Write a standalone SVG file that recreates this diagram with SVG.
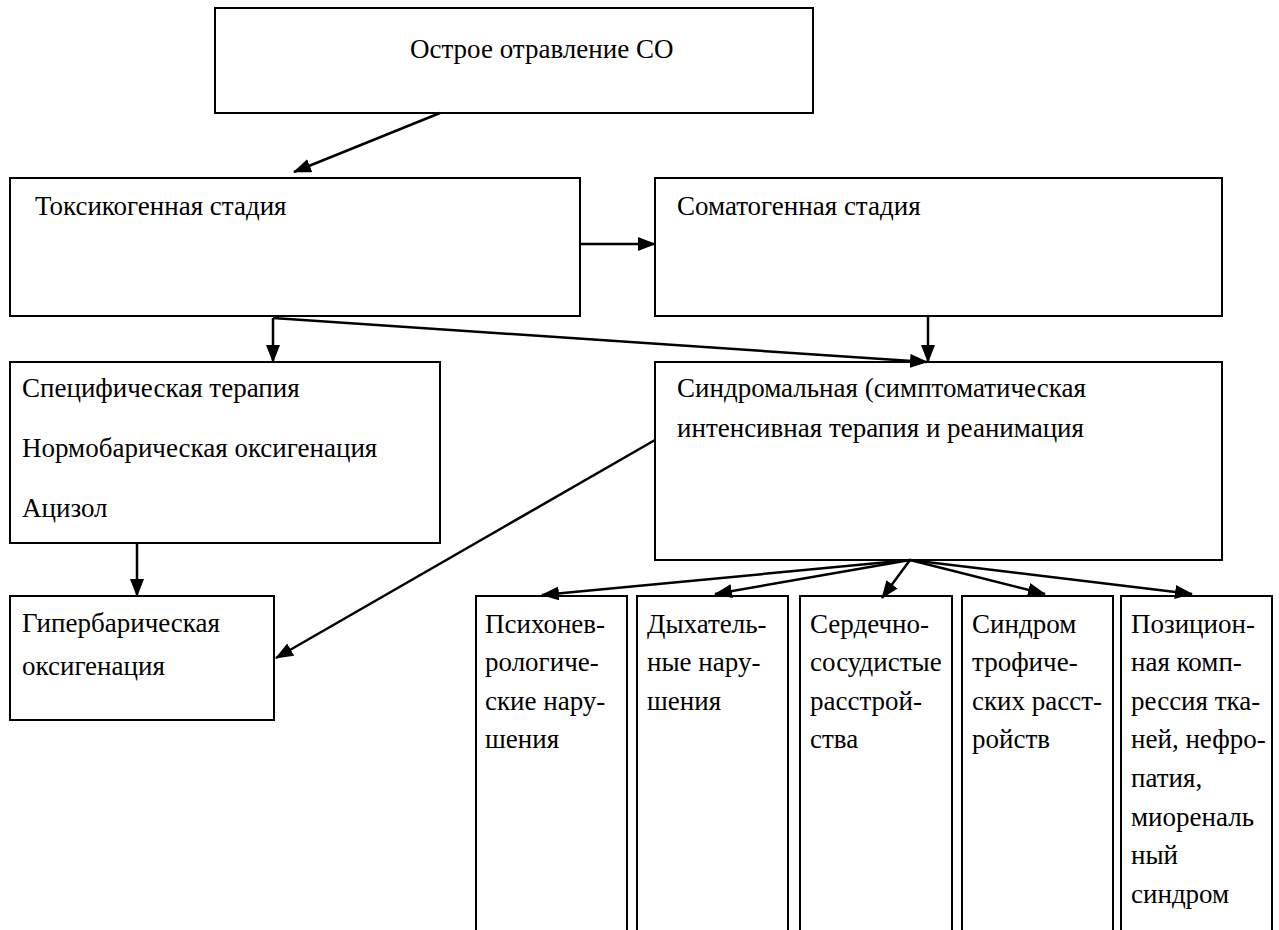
<svg xmlns="http://www.w3.org/2000/svg" width="1279" height="930" viewBox="0 0 1279 930" xml:lang="ru" lang="ru">
<style>
.box{fill:#fff;stroke:#000;stroke-width:2}
.c{stroke:#000;stroke-width:2.5;fill:none}
</style>
<defs>
<marker id="ah" markerUnits="userSpaceOnUse" markerWidth="18" markerHeight="14" refX="17" refY="7" orient="auto">
<path d="M0,0 L18,7 L0,14 Z" fill="#000"/>
</marker>
</defs>
<rect width="1279" height="930" fill="#fff"/>
<g id="n-root"><rect class="box" x="215" y="8" width="598" height="105"/><text font-family="Liberation Serif, Tinos, Times New Roman, serif" style="font-family:'Liberation Serif','Tinos','Times New Roman',serif;font-size:27px" x="410" y="58">Острое отравление СО</text></g>
<g id="n-toxic"><rect class="box" x="10" y="178" width="570" height="138"/><text font-family="Liberation Serif, Tinos, Times New Roman, serif" style="font-family:'Liberation Serif','Tinos','Times New Roman',serif;font-size:27px" x="35" y="215">Токсикогенная стадия</text></g>
<g id="n-somat"><rect class="box" x="655" y="178" width="567" height="138"/><text font-family="Liberation Serif, Tinos, Times New Roman, serif" style="font-family:'Liberation Serif','Tinos','Times New Roman',serif;font-size:27px" x="677" y="215">Соматогенная стадия</text></g>
<g id="n-spec"><rect class="box" x="10" y="362" width="430" height="181"/><text font-family="Liberation Serif, Tinos, Times New Roman, serif" style="font-family:'Liberation Serif','Tinos','Times New Roman',serif;font-size:27px" x="22" y="397">Специфическая терапия</text><text font-family="Liberation Serif, Tinos, Times New Roman, serif" style="font-family:'Liberation Serif','Tinos','Times New Roman',serif;font-size:27px" x="22" y="457">Нормобарическая оксигенация</text><text font-family="Liberation Serif, Tinos, Times New Roman, serif" style="font-family:'Liberation Serif','Tinos','Times New Roman',serif;font-size:27px" x="22" y="517">Ацизол</text></g>
<g id="n-hyper"><rect class="box" x="10" y="596" width="264" height="124"/><text font-family="Liberation Serif, Tinos, Times New Roman, serif" style="font-family:'Liberation Serif','Tinos','Times New Roman',serif;font-size:27px" x="22" y="632">Гипербарическая</text><text font-family="Liberation Serif, Tinos, Times New Roman, serif" style="font-family:'Liberation Serif','Tinos','Times New Roman',serif;font-size:27px" x="22" y="675">оксигенация</text></g>
<g id="n-synd"><rect class="box" x="655" y="362" width="567" height="198"/><text font-family="Liberation Serif, Tinos, Times New Roman, serif" style="font-family:'Liberation Serif','Tinos','Times New Roman',serif;font-size:27px" x="677" y="397">Синдромальная (симптоматическая</text><text font-family="Liberation Serif, Tinos, Times New Roman, serif" style="font-family:'Liberation Serif','Tinos','Times New Roman',serif;font-size:27px" x="677" y="437">интенсивная терапия и реанимация</text></g>
<g id="n-b1"><rect class="box" x="476" y="596" width="151" height="345"/><text font-family="Liberation Serif, Tinos, Times New Roman, serif" style="font-family:'Liberation Serif','Tinos','Times New Roman',serif;font-size:27px" x="485" y="633">Психонев-</text><text font-family="Liberation Serif, Tinos, Times New Roman, serif" style="font-family:'Liberation Serif','Tinos','Times New Roman',serif;font-size:27px" x="485" y="671">рологиче-</text><text font-family="Liberation Serif, Tinos, Times New Roman, serif" style="font-family:'Liberation Serif','Tinos','Times New Roman',serif;font-size:27px" x="485" y="710">ские нару-</text><text font-family="Liberation Serif, Tinos, Times New Roman, serif" style="font-family:'Liberation Serif','Tinos','Times New Roman',serif;font-size:27px" x="485" y="748">шения</text></g>
<g id="n-b2"><rect class="box" x="637" y="596" width="151" height="345"/><text font-family="Liberation Serif, Tinos, Times New Roman, serif" style="font-family:'Liberation Serif','Tinos','Times New Roman',serif;font-size:27px" x="647" y="633">Дыхатель-</text><text font-family="Liberation Serif, Tinos, Times New Roman, serif" style="font-family:'Liberation Serif','Tinos','Times New Roman',serif;font-size:27px" x="647" y="671">ные нару-</text><text font-family="Liberation Serif, Tinos, Times New Roman, serif" style="font-family:'Liberation Serif','Tinos','Times New Roman',serif;font-size:27px" x="647" y="710">шения</text></g>
<g id="n-b3"><rect class="box" x="800" y="596" width="152" height="345"/><text font-family="Liberation Serif, Tinos, Times New Roman, serif" style="font-family:'Liberation Serif','Tinos','Times New Roman',serif;font-size:27px" x="810" y="633">Сердечно-</text><text font-family="Liberation Serif, Tinos, Times New Roman, serif" style="font-family:'Liberation Serif','Tinos','Times New Roman',serif;font-size:27px" x="810" y="671">сосудистые</text><text font-family="Liberation Serif, Tinos, Times New Roman, serif" style="font-family:'Liberation Serif','Tinos','Times New Roman',serif;font-size:27px" x="810" y="710">расстрой-</text><text font-family="Liberation Serif, Tinos, Times New Roman, serif" style="font-family:'Liberation Serif','Tinos','Times New Roman',serif;font-size:27px" x="810" y="748">ства</text></g>
<g id="n-b4"><rect class="box" x="962" y="596" width="151" height="345"/><text font-family="Liberation Serif, Tinos, Times New Roman, serif" style="font-family:'Liberation Serif','Tinos','Times New Roman',serif;font-size:27px" x="972" y="633">Синдром</text><text font-family="Liberation Serif, Tinos, Times New Roman, serif" style="font-family:'Liberation Serif','Tinos','Times New Roman',serif;font-size:27px" x="972" y="671">трофиче-</text><text font-family="Liberation Serif, Tinos, Times New Roman, serif" style="font-family:'Liberation Serif','Tinos','Times New Roman',serif;font-size:27px" x="972" y="710">ских расст-</text><text font-family="Liberation Serif, Tinos, Times New Roman, serif" style="font-family:'Liberation Serif','Tinos','Times New Roman',serif;font-size:27px" x="972" y="748">ройств</text></g>
<g id="n-b5"><rect class="box" x="1121" y="596" width="151" height="345"/><text font-family="Liberation Serif, Tinos, Times New Roman, serif" style="font-family:'Liberation Serif','Tinos','Times New Roman',serif;font-size:27px" x="1131" y="633">Позицион-</text><text font-family="Liberation Serif, Tinos, Times New Roman, serif" style="font-family:'Liberation Serif','Tinos','Times New Roman',serif;font-size:27px" x="1131" y="671">ная комп-</text><text font-family="Liberation Serif, Tinos, Times New Roman, serif" style="font-family:'Liberation Serif','Tinos','Times New Roman',serif;font-size:27px" x="1131" y="710">рессия тка-</text><text font-family="Liberation Serif, Tinos, Times New Roman, serif" style="font-family:'Liberation Serif','Tinos','Times New Roman',serif;font-size:27px" x="1131" y="748">ней, нефро-</text><text font-family="Liberation Serif, Tinos, Times New Roman, serif" style="font-family:'Liberation Serif','Tinos','Times New Roman',serif;font-size:27px" x="1131" y="787">патия,</text><text font-family="Liberation Serif, Tinos, Times New Roman, serif" style="font-family:'Liberation Serif','Tinos','Times New Roman',serif;font-size:27px" x="1131" y="826">миореналь</text><text font-family="Liberation Serif, Tinos, Times New Roman, serif" style="font-family:'Liberation Serif','Tinos','Times New Roman',serif;font-size:27px" x="1131" y="864">ный</text><text font-family="Liberation Serif, Tinos, Times New Roman, serif" style="font-family:'Liberation Serif','Tinos','Times New Roman',serif;font-size:27px" x="1131" y="903">синдром</text></g>
<g id="connectors">
<line class="c" x1="440" y1="113" x2="294" y2="172" marker-end="url(#ah)"/>
<line class="c" x1="580" y1="244" x2="655" y2="244" marker-end="url(#ah)"/>
<line class="c" x1="273" y1="318" x2="273" y2="362" marker-end="url(#ah)"/>
<line class="c" x1="273" y1="318" x2="927" y2="362" marker-end="url(#ah)"/>
<line class="c" x1="928" y1="316" x2="928" y2="362" marker-end="url(#ah)"/>
<line class="c" x1="137" y1="543" x2="137" y2="596" marker-end="url(#ah)"/>
<line class="c" x1="655" y1="440" x2="276" y2="658" marker-end="url(#ah)"/>
<line class="c" x1="910" y1="560" x2="542" y2="595" marker-end="url(#ah)"/>
<line class="c" x1="910" y1="560" x2="715" y2="594" marker-end="url(#ah)"/>
<line class="c" x1="910" y1="560" x2="882" y2="598" marker-end="url(#ah)"/>
<line class="c" x1="910" y1="560" x2="1045" y2="594" marker-end="url(#ah)"/>
<line class="c" x1="910" y1="560" x2="1192" y2="594" marker-end="url(#ah)"/>
</g>
</svg>
